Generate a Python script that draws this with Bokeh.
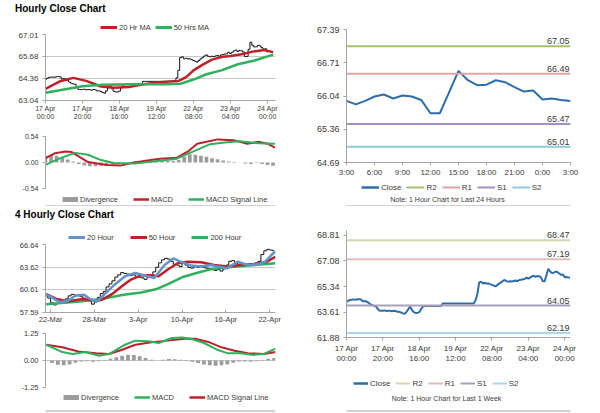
from bokeh.plotting import figure
from bokeh.layouts import column, row
from bokeh.models import (Range1d, FixedTicker, NumeralTickFormatter, Legend, LegendItem,
                          Label, Span, Div)
from bokeh.embed import file_html
from bokeh.resources import INLINE

FONT = "Liberation Sans"
TXT = "#3a3a3a"
AXIS = "#a6a6a6"
GRID = "#c8c8c8"
RULE = "#a0a0a0"
RED = "#C0202A"
GREEN = "#2EB05C"
BLUE_MA = "#6393CB"
DIV = "#9C9C9C"
BLUE = "#2E6DA8"
NAN = float("nan")

# ---------------- data ----------------
hour_ticks = [0, 20, 40, 60, 80, 100, 120]
hour_tick_labels = ["17 Apr\n00:00", "17 Apr\n20:00", "18 Apr\n16:00", "19 Apr\n12:00",
                    "22 Apr\n08:00", "23 Apr\n04:00", "24 Apr\n00:00"]

close_1h = [64.30, 64.38, 64.42, 64.45, 64.45, 64.44, 64.47, 64.48, 64.46, 64.33, 64.35, 64.32, 64.25,
            64.15, 64.08, 64.04, 64.02, 63.85, 63.71, 63.70, 63.70, 63.72, 63.68, 63.70, 63.69, 63.66,
            63.70, 63.68, 63.62,
            63.62, 63.58, 63.52, 63.48, 63.62, 63.80, 63.97, 63.75, 63.60, 63.55, 63.55, 63.60, 63.80,
            63.97, 64.02, 64.02,
            64.02, 64.02, 64.02, 64.02, 64.02, 64.02, 64.02, 64.02,
            64.19, 64.19, 64.19, 64.19, 64.19, 64.19, 64.19, 64.19, 64.19, 64.19, 64.19, 64.19, 64.19,
            64.19, 64.19, 64.19, 64.19, 64.19,
            64.40, 64.85, 65.62, 65.67, 65.55, 65.58, 65.54, 65.55, 65.50, 65.45, 65.40, 65.35, 65.45,
            65.55, 65.62, 65.72, 65.78, 65.70, 65.67, 65.70, 65.68, 65.72, 65.75, 65.70, 65.78, 65.80,
            65.83, 65.85,
            65.94, 65.87, 65.94, 66.03, 66.07, 65.99, 66.05, 66.03, 65.96, 65.69, 65.69, 66.12, 66.55,
            66.36, 66.26, 66.27, 66.36, 66.32, 66.22, 66.13, 66.15, 65.97, 65.99, 65.96, 65.94]

ma20_1h_x = [0, 8, 15, 22, 30, 37, 45, 53, 60, 67, 72, 76, 80, 85, 90, 95, 100, 106, 112, 118, 123]
ma20_1h = [63.74, 64.20, 64.40, 64.22, 63.88, 63.80, 63.85, 64.02, 64.12, 64.18, 64.22, 64.45, 64.85,
           65.20, 65.50, 65.65, 65.72, 65.82, 65.98, 66.08, 65.95]
ma50_1h_x = [0, 10, 20, 30, 40, 53, 65, 73, 80, 87, 95, 104, 113, 123]
ma50_1h = [63.50, 63.70, 63.90, 63.98, 64.00, 64.02, 64.02, 64.05, 64.30, 64.62, 64.85, 65.22, 65.45, 65.80]

macd_1h_x = [0, 5, 11, 14, 19, 23, 28, 33, 41, 48, 55, 62, 71, 77, 82, 87, 93, 102, 109, 115, 120, 124]
macd_1h = [0.09, 0.19, 0.23, 0.22, 0.10, 0.01, -0.02, -0.05, -0.06, 0.00, 0.04, 0.08, 0.10, 0.23, 0.39,
           0.43, 0.48, 0.46, 0.39, 0.43, 0.39, 0.31]
signal_1h_x = [0, 8, 16, 23, 30, 37, 48, 58, 71, 80, 89, 98, 105, 115, 124]
signal_1h = [-0.05, 0.09, 0.20, 0.16, 0.05, -0.01, -0.02, 0.02, 0.08, 0.23, 0.38, 0.42, 0.44, 0.40, 0.39]
div_1h = [0.14, 0.16, 0.14, 0.10, 0.06, 0.02, -0.03, -0.06, -0.08, -0.08, -0.07, -0.05, -0.03, -0.02,
          0.00, 0.01, 0.02, 0.02, 0.03, 0.03, 0.03, 0.03, 0.03, 0.03, 0.05, 0.12, 0.17, 0.16, 0.14, 0.12,
          0.09, 0.07, 0.04, 0.02, 0.01, 0.00, -0.02, -0.03, -0.01, -0.03, -0.05, -0.07]

hours_24_ticks = [0, 3, 6, 9, 12, 15, 18, 21, 24]
hours_24_labels = ["3:00", "6:00", "9:00", "12:00", "15:00", "18:00", "21:00", "0:00", "3:00"]
close_24h = close_1h[-25:]
levels_24h = [67.05, 66.49, 65.47, 65.01]
levels_1w = [68.47, 67.19, 64.05, 62.19]
level_names = ["R2", "R1", "S1", "S2"]

day_ticks_4h = [0, 30, 60, 90, 120, 150]
day_labels_4h = ["22-Mar", "28-Mar", "3-Apr", "10-Apr", "16-Apr", "22-Apr"]
close_4h = [59.8, 59.5, 58.9, 58.6, 58.8, 59.0, 59.1, 59.4, 59.8, 60.0,
            59.9, 59.9, 59.7, 59.5, 59.2, 59.1, 58.7, 59.0, 59.6, 60.1,
            60.4, 61.0, 61.4, 61.8, 62.3, 62.6, 62.9, 62.8, 62.7, 62.5,
            62.6, 62.4, 62.3, 62.2, 62.0, 62.3, 62.6, 63.0, 63.6, 64.2,
            64.6, 64.8, 64.7, 64.4, 64.0, 63.9, 63.7, 64.1, 63.9, 63.6,
            63.5, 63.7, 63.6, 63.8, 63.6, 63.5, 63.4, 63.3, 63.2, 63.3,
            63.1, 63.4, 63.9, 64.4, 64.5, 64.2, 64.0, 63.9, 63.9, 64.0,
            64.1, 64.0, 64.2, 64.4, 65.3, 65.8, 66.0, 65.9, 65.8]
ma20_4h_x = [-3, 1, 6, 12, 17, 23, 27, 32, 37, 44, 51, 58, 65, 71, 78, 84, 89, 96, 103, 110, 114,
             121, 128, 135, 142, 147, 151, 154]
ma20_4h = [59.95, 59.60, 58.96, 59.17, 59.82, 59.95, 59.39, 59.09, 60.03, 61.33, 62.41, 62.84, 62.49,
           62.19, 63.92, 64.78, 64.35, 63.83, 63.70, 63.92, 63.70, 63.49, 64.35, 63.92, 64.00, 64.35,
           65.20, 65.70]
ma50_4h_x = [-3, 4, 12, 22, 31, 35, 42, 49, 55, 62, 69, 74, 80, 87, 94, 103, 112, 121, 130, 139, 148, 154]
ma50_4h = [60.03, 59.39, 59.09, 59.39, 59.17, 59.26, 60.03, 61.11, 61.97, 62.54, 62.54, 62.41, 63.27,
           64.14, 64.35, 64.27, 63.92, 63.70, 63.92, 64.00, 64.35, 65.00]
ma200_4h_x = [-3, 5, 20, 35, 50, 62, 72, 80, 90, 100, 110, 120, 135, 154]
ma200_4h = [58.70, 58.82, 59.05, 59.39, 59.95, 60.25, 60.68, 61.34, 62.28, 62.84, 63.36, 63.57, 63.83, 64.14]

macd_4h_x = [-3, 8, 15, 24, 33, 40, 51, 58, 67, 74, 83, 90, 96, 105, 114, 121, 130, 139, 146, 154]
macd_4h = [0.73, 0.39, 0.30, 0.39, 0.22, 0.30, 0.73, 0.92, 0.89, 0.81, 1.04, 1.07, 1.01, 0.81, 0.50,
           0.34, 0.34, 0.26, 0.30, 0.55]
signal_4h_x = [-3, 8, 19, 31, 40, 49, 58, 69, 80, 92, 99, 108, 117, 126, 135, 146, 154]
signal_4h = [0.73, 0.61, 0.42, 0.34, 0.30, 0.50, 0.73, 0.84, 0.92, 1.01, 1.01, 0.86, 0.61, 0.45, 0.34,
             0.30, 0.39]
div_4h = [0.00, -0.12, -0.20, -0.22, -0.18, -0.10, -0.05, -0.04, -0.06, -0.03,
          0.02, 0.08, 0.15, 0.22, 0.27, 0.26, 0.20, 0.12, 0.04, 0.00,
          0.04, 0.07, 0.06, 0.03, -0.02, -0.06, -0.12, -0.18, -0.22, -0.24,
          -0.22, -0.18, -0.10, -0.05, -0.05, -0.06, -0.03, 0.02, 0.08, 0.12]

x_1h = list(range(len(close_1h)))
div_1h_x = list(range(0, 3 * len(div_1h), 3))
x_4h = list(range(-3, -3 + 2 * len(close_4h), 2))
div_4h_x = list(range(-3, -3 + 4 * len(div_4h), 4))
x_24 = list(range(len(close_24h)))

# column geometry (frames of plots in one column get aligned)
W = 300
LB_L, LB_R = 45, 25      # left column borders
RB_L, RB_R = 46, 30      # right column borders


# ---------------- helpers ----------------
def strip(h, bl, br, w=W):
    s = figure(width=w, height=h, x_range=Range1d(bl, w - br), y_range=Range1d(0, h),
               output_backend="svg", toolbar_location=None,
               x_axis_location=None, y_axis_location=None,
               min_border_left=bl, min_border_right=br, min_border_top=0, min_border_bottom=0,
               outline_line_color=None, background_fill_color="white", border_fill_color="white")
    s.grid.visible = False
    return s


def title_div(text, h, line_h):
    html = ('<div style="font-family:\'Liberation Sans\',Arial,sans-serif;font-size:10px;'
            'font-weight:bold;color:#000;padding-left:15px;line-height:%dpx;white-space:nowrap;">'
            '%s</div>' % (line_h, text))
    return Div(text=html, width=W, height=h, margin=(0, 0, 0, 0))


def add_legend(s, entries, loc, size, spacing, glyph_w):
    items = []
    for label, color, width in entries:
        r = s.line(x=[NAN], y=[NAN], line_color=color, line_width=width)
        items.append(LegendItem(label=label, renderers=[r]))
    leg = Legend(items=items, location=loc, orientation="horizontal", padding=0, margin=0,
                 spacing=spacing, glyph_width=glyph_w, glyph_height=10, label_height=10,
                 label_width=0, label_standoff=2, label_text_font=FONT, label_text_font_size=size,
                 label_text_color=TXT, border_line_color=None, background_fill_alpha=0)
    s.add_layout(leg)


def add_rule(s, y):
    s.add_layout(Span(location=y, dimension="width", line_color=RULE, line_width=1))


def add_note(s, x, y, text):
    s.add_layout(Label(x=x, y=y, text=text, text_font=FONT, text_font_size="7px",
                       text_color=TXT, text_baseline="middle", text_align="center"))


def panel(h, xr, yr, bl, br, bt, bb, xaxis=True, w=W):
    p = figure(width=w, height=h, x_range=Range1d(*xr), y_range=Range1d(*yr),
               output_backend="svg", toolbar_location=None,
               x_axis_location="below" if xaxis else None,
               min_border_left=bl, min_border_right=br, min_border_top=bt, min_border_bottom=bb,
               outline_line_color=None, background_fill_color="white", border_fill_color="white")
    p.xgrid.visible = False
    return p


def style_axis(ax, size, tick_out, tick_in, standoff):
    ax.axis_line_color = AXIS
    ax.major_tick_line_color = AXIS
    ax.minor_tick_line_color = None
    ax.major_tick_out = tick_out
    ax.major_tick_in = tick_in
    ax.major_label_standoff = standoff
    ax.major_label_text_font = FONT
    ax.major_label_text_font_size = size
    ax.major_label_text_color = TXT


def set_y(p, ticks, grid_ticks, size):
    ax = p.yaxis[0]
    ax.ticker = FixedTicker(ticks=ticks)
    ax.formatter = NumeralTickFormatter(format="0.00")
    style_axis(ax, size, 3, 0, 4)
    if grid_ticks:
        p.ygrid.ticker = FixedTicker(ticks=grid_ticks)
        p.ygrid.grid_line_color = GRID
    else:
        p.ygrid.visible = False


def set_x(p, ticks, labels, size, tick_out, tick_in, standoff):
    ax = p.xaxis[0]
    ax.ticker = FixedTicker(ticks=ticks)
    ax.major_label_overrides = dict(zip(ticks, labels))
    style_axis(ax, size, tick_out, tick_in, standoff)


def add_levels(p, levels, colors, xend):
    for lv, c in zip(levels, colors):
        p.add_layout(Span(location=lv, dimension="width", line_color=c, line_width=2))
        p.add_layout(Label(x=xend, y=lv, text="%.2f" % lv, text_align="right",
                           text_baseline="bottom", x_offset=-1, y_offset=2,
                           text_font=FONT, text_font_size="9px", text_color=TXT))


# ---------------- top-left: hourly ----------------
tl_title = title_div("Hourly Close Chart", 18, 18)
tl_hdr = strip(14, LB_L, LB_R)
add_legend(tl_hdr, [("20 Hr MA", RED, 3), ("50 Hrs MA", GREEN, 3)], (55, 0), "7.5px", 4, 17)

tl_price = panel(92, (0, 124.3), (63.04, 67.01), LB_L, LB_R, 2, 24)
tl_price.step(x_1h, close_1h, mode="center", line_color="#111111", line_width=1)
tl_price.line(ma20_1h_x, ma20_1h, line_color=RED, line_width=2.5)
tl_price.line(ma50_1h_x, ma50_1h, line_color=GREEN, line_width=2.5)
set_y(tl_price, [63.04, 64.36, 65.68, 67.01], [63.04, 64.36, 65.68, 67.01], "8px")
set_x(tl_price, hour_ticks, hour_tick_labels, "7px", 3, 0, 1)

tl_macd = panel(68, (0, 124.3), (-0.54, 0.54), LB_L, LB_R, 12, 4, xaxis=False)
tl_macd.vbar(x=div_1h_x, top=div_1h, bottom=0, width=2.0, fill_color=DIV, line_color=None)
tl_macd.line(macd_1h_x, macd_1h, line_color=RED, line_width=2)
tl_macd.line(signal_1h_x, signal_1h, line_color=GREEN, line_width=2)
set_y(tl_macd, [-0.54, 0.0, 0.54], [0.54], "7px")

tl_leg = strip(14, LB_L, LB_R)
add_legend(tl_leg, [("Divergence", DIV, 5), ("MACD", RED, 2.5), ("MACD Signal Line", GREEN, 2.5)],
           (17, 2), "7.5px", 15, 16)
add_rule(tl_leg, 0.5)

# ---------------- bottom-left: 4 hourly ----------------
bl_title = title_div("4 Hourly Close Chart", 20, 18)
bl_hdr = strip(16, LB_L, LB_R)
add_legend(bl_hdr, [("20 Hour", BLUE_MA, 3), ("50 Hour", RED, 3), ("200 Hour", GREEN, 3)],
           (23, 0), "7.5px", 16, 17)

bl_price = panel(84, (-3.5, 154), (57.59, 66.64), LB_L, LB_R, 2, 12)
bl_price.step(x_4h, close_4h, mode="center", line_color="#111111", line_width=1)
bl_price.line(ma200_4h_x, ma200_4h, line_color=GREEN, line_width=2.5)
bl_price.line(ma50_4h_x, ma50_4h, line_color=RED, line_width=2.5)
bl_price.line(ma20_4h_x, ma20_4h, line_color=BLUE_MA, line_width=2.5)
set_y(bl_price, [57.59, 60.61, 63.62, 66.64], [57.59, 60.61, 63.62, 66.64], "7.5px")
set_x(bl_price, day_ticks_4h, day_labels_4h, "7.5px", 0, 3, 2)

bl_macd = panel(66, (-3.5, 154), (-1.25, 1.25), LB_L, LB_R, 7, 5, xaxis=False)
bl_macd.vbar(x=div_4h_x, top=div_4h, bottom=0, width=2.6, fill_color=DIV, line_color=None)
bl_macd.line(signal_4h_x, signal_4h, line_color=RED, line_width=2)
bl_macd.line(macd_4h_x, macd_4h, line_color=GREEN, line_width=2)
set_y(bl_macd, [-1.25, 0.0, 1.25], [1.25, 0.0], "7.5px")

bl_leg = strip(21, LB_L, LB_R)
add_legend(bl_leg, [("Divergence", DIV, 5), ("MACD", GREEN, 2.5), ("MACD Signal Line", RED, 2.5)],
           (18, 11), "7.5px", 15, 16)
add_rule(bl_leg, 2.5)

# ---------------- top-right: last 24 hours ----------------
COL_24 = ["#A5C16E", "#E2A4A2", "#A28FC6", "#8FCBDF"]
tr_price = panel(182, (0, 24), (64.69, 67.39), RB_L, RB_R, 29, 20)
add_levels(tr_price, levels_24h, COL_24, 24)
tr_price.line(x_24, close_24h, line_color=BLUE, line_width=2)
set_y(tr_price, [64.69, 65.36, 66.04, 66.71, 67.39], None, "9px")
set_x(tr_price, hours_24_ticks, hours_24_labels, "8px", 3, 0, 2)

tr_leg = strip(24, RB_L, RB_R)
add_legend(tr_leg, [("Close", BLUE, 2.5)] + [(n, c, 2) for n, c in zip(level_names, COL_24)],
           (15, 14), "8px", 5, 18)
add_note(tr_leg, 147, 7, "Note: 1 Hour Chart for Last 24 Hours")
add_rule(tr_leg, 0.5)

# ---------------- bottom-right: last week ----------------
COL_1W = ["#D8D4B2", "#E6BAB9", "#A7A2BA", "#A8D8E8"]
br_price = panel(160, (0, 123.2), (61.88, 69.14), RB_L, RB_R, 24, 26)
add_levels(br_price, levels_1w, COL_1W, 123.2)
br_price.line(x_1h, close_1h, line_color=BLUE, line_width=2)
set_y(br_price, [61.88, 63.61, 65.34, 67.08, 68.81], None, "9px")
set_x(br_price, hour_ticks, hour_tick_labels, "8px", 3, 0, 3)

br_leg = strip(47, RB_L, RB_R)
add_legend(br_leg, [("Close", BLUE, 2.5)] + [(n, c, 2) for n, c in zip(level_names, COL_1W)],
           (7, 25), "8px", 5, 15)
add_note(br_leg, 146, 15, "Note: 1 Hour Chart for Last 1 Week")
add_rule(br_leg, 2.5)

left = column(tl_title, tl_hdr, tl_price, tl_macd, tl_leg, bl_title, bl_hdr, bl_price, bl_macd, bl_leg)
right = column(tr_price, tr_leg, br_price, br_leg)
layout = row(left, right)

open("out.html", "w").write(file_html(layout, INLINE))
